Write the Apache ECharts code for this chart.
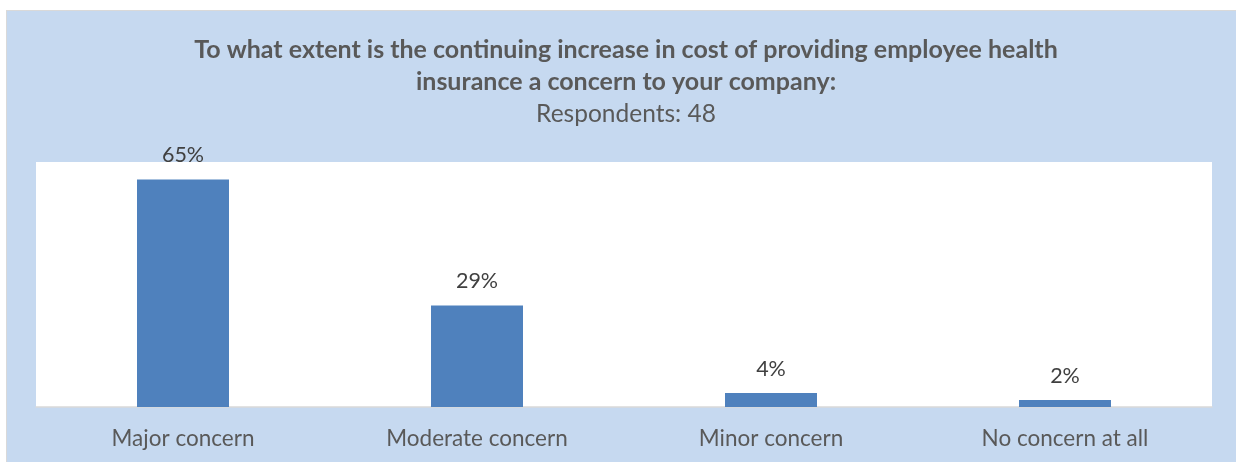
<!DOCTYPE html>
<html>
<head>
<meta charset="utf-8">
<script src="https://cdn.jsdelivr.net/npm/echarts@6/dist/echarts.min.js"></script>
<style>
html,body{margin:0;padding:0;background:#ffffff;}
#chart{width:1236px;height:462px;}
</style>
</head>
<body>
<div id="chart"></div>
<script>
const titleLines = ['To what extent is the continuing increase in cost of providing employee health', 'insurance a concern to your company:'];
const subtitleText = 'Respondents: 48';
const categories = ['Major concern', 'Moderate concern', 'Minor concern', 'No concern at all'];
const values = [65, 29, 4, 2];
const yMin = 0;
const yMax = 70;

const FONT = 'Lato';
const chart = echarts.init(document.getElementById('chart'), null, {renderer: 'canvas'});
chart.setOption({
  backgroundColor: '#ffffff',
  animation: false,
  graphic: [
    {type: 'rect', z: -10, shape: {x: 6, y: 10, width: 1230, height: 452}, style: {fill: '#d9d9d9'}},
    {type: 'rect', z: -9, shape: {x: 7, y: 11, width: 1229, height: 451}, style: {fill: '#c6d9f0'}}
  ],
  title: {
    text: titleLines.join('\n'),
    subtext: subtitleText,
    left: 621,
    textAlign: 'center',
    top: 29,
    itemGap: 0,
    textStyle: {fontFamily: FONT, fontWeight: 'bold', fontSize: 25, color: '#595959', lineHeight: 32},
    subtextStyle: {fontFamily: FONT, fontSize: 24.5, color: '#595959', lineHeight: 32}
  },
  grid: {left: 36, right: 24, top: 162, bottom: 55, show: true, backgroundColor: '#ffffff', borderWidth: 0, containLabel: false},
  xAxis: {
    type: 'category',
    data: categories,
    axisLine: {show: true, lineStyle: {color: '#d9d9d9', width: 1.5}},
    axisTick: {show: false},
    axisLabel: {fontFamily: FONT, fontSize: 22.5, color: '#595959', margin: 20}
  },
  yAxis: {
    type: 'value', min: yMin, max: yMax,
    show: false,
    splitLine: {show: false}
  },
  series: [{
    type: 'bar',
    data: values,
    barWidth: 92,
    itemStyle: {color: '#4f81bd'},
    label: {
      show: true, position: 'top', distance: 13,
      formatter: p => p.value + '%',
      fontFamily: FONT, fontSize: 21.5, color: '#404040'
    }
  }]
});
</script>
</body>
</html>
